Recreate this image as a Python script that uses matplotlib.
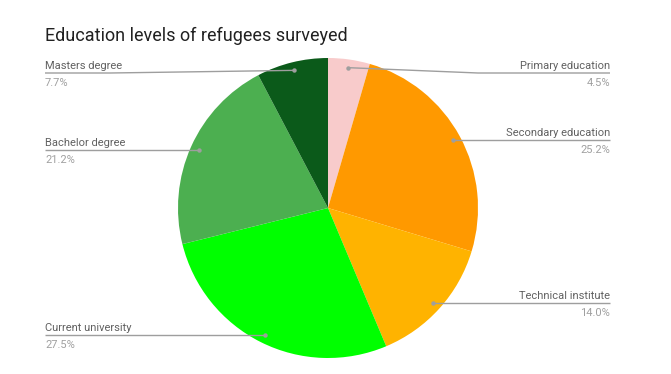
import matplotlib.pyplot as plt
import numpy as np

labels = ["Primary education", "Secondary education", "Technical institute",
          "Current university", "Bachelor degree", "Masters degree"]
values = [4.5, 25.2, 14.0, 27.5, 21.2, 7.7]
colors = ["#f8cbcb", "#ff9900", "#ffb300", "#00ff00", "#4caf50", "#0b5a1a"]

W, H = 671, 374
fig = plt.figure(figsize=(W / 100, H / 100), dpi=100)
ax = fig.add_axes([0, 0, 1, 1])

cx, cy, R = 328, 374 - 208, 150
ax.pie(values, colors=colors, startangle=90, counterclock=False,
       center=(cx, cy), radius=R, wedgeprops=dict(linewidth=0), frame=True)
ax.set_xlim(0, W)
ax.set_ylim(0, H)
ax.set_aspect("equal")
ax.axis("off")

fam = ["Roboto", "DejaVu Sans"]
fig.text(45 / W, 1 - 36 / H, "Education levels of refugees surveyed",
         fontsize=13, color="#212121", va="center", family=fam)

# leader lines: dots on the mid-angle of each slice
total = sum(values)
cum = np.cumsum([0] + values[:-1])
line_y = {"Primary education": 73, "Masters degree": 73}
for lab, v, c0 in zip(labels, values, cum):
    ang = np.deg2rad((c0 + v / 2) / total * 360)
    dx, dy = np.sin(ang), np.cos(ang)
    px, py = cx + 0.945 * R * dx, cy + 0.945 * R * dy
    right = dx > 0
    ly = 374 - line_y[lab] if lab in line_y else py
    tx = 610 if right else 45
    kx = 478 if right else 110
    if lab in line_y:
        xs, ys = [px, kx, tx], [py, ly, ly]
    else:
        xs, ys = [px, tx], [py, ly]
    ax.plot(xs, ys, color="#9e9e9e", lw=1, solid_capstyle="butt")
    ax.plot(px, py, "o", ms=3.2, color="#9e9e9e", mec="none")
    ha = "right" if right else "left"
    ax.text(tx, ly + 2, lab, ha=ha, va="bottom", fontsize=8, color="#616161",
            family=fam)
    ax.text(tx, ly - 5, f"{v:.1f}%", ha=ha, va="top", fontsize=8, color="#a0a0a0",
            family=fam)

fig.savefig("out.png", dpi=100, facecolor="white")
